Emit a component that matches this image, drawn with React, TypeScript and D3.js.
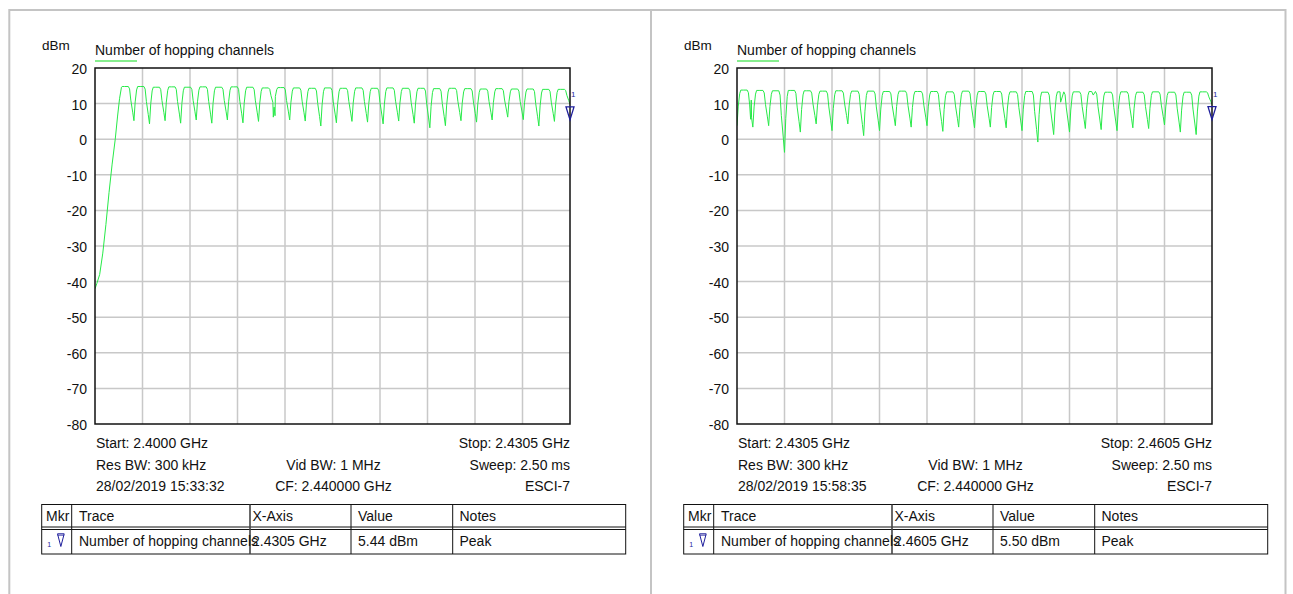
import React from 'react';
import * as d3 from 'd3';

// sweep spans in MHz
const leftSpan = [2400.0, 2430.5];
const rightSpan = [2430.5, 2460.5];

// hopping channel centres (MHz)
const leftChannels = [2402, 2403, 2404, 2405, 2406, 2407, 2408, 2409, 2410, 2411, 2412, 2413, 2414, 2415, 2416,
  2417, 2418, 2419, 2420, 2421, 2422, 2423, 2424, 2425, 2426, 2427, 2428, 2429, 2430];
const rightChannels = [2431, 2432, 2433, 2434, 2435, 2436, 2437, 2438, 2439, 2440, 2441, 2442, 2443, 2444, 2445,
  2446, 2447, 2448, 2449, 2450, 2451, 2452, 2453, 2454, 2455, 2456, 2457, 2458, 2459, 2460];

// lobe tops (dBm) per channel
const leftPeaks = [14.8, 14.8, 14.6, 14.7, 14.6, 14.7, 14.6, 14.7, 14.6, 14.4, 14.5, 14.4, 14.3, 14.4, 14.3,
  14.4, 14.3, 14.4, 14.3, 14.3, 14.2, 14.3, 14.2, 14.1, 14.2, 14.1, 14.1, 14.0, 14.0];
const rightPeaks = [13.8, 13.7, 13.6, 13.7, 13.6, 13.5, 13.6, 13.5, 13.5, 13.4, 13.5, 13.4, 13.4, 13.3, 13.5,
  13.4, 13.4, 13.3, 13.4, 13.2, 13.3, 13.3, 13.4, 13.2, 13.3, 13.2, 13.3, 13.2, 13.2, 13.3];

// minima between neighbouring channels (dBm)
const leftDips = [5.2, 4.3, 5.2, 4.5, 5.4, 4.5, 5.4, 4.6, 5.0, 9.0, 5.4, 5.1, 3.7,
  4.6, 5.0, 4.8, 4.3, 5.1, 4.5, 3.2, 3.8, 5.2, 4.8, 5.4, 6.2, 5.5, 3.7, 5.0];
const rightDips = [3.4, 3.8, -3.7, 2.0, 4.3, 2.4, 4.3, 1.0, 2.4, 3.8, 3.4, 3.8, 2.2, 3.4,
  3.2, 3.4, 3.2, 2.4, -0.8, 1.3, 2.0, 3.0, 2.7, 2.4, 3.2, 3.0, 4.0, 2.0, 1.3];

// start of the left sweep, before the first channel
const leftRamp: [number, number][] = [[2400.0, -42], [2400.12, -40.5], [2400.3, -38], [2400.5, -32], [2400.7, -24],
  [2400.9, -15], [2401.1, -7], [2401.3, 0], [2401.45, 6.5], [2401.58, 11.5], [2401.7, 14.6]];
const leftNotches: [number, number][] = [[2411.45, 6.2], [2411.56, 6.6]];
const rightNotches: [number, number][] = [[2431.36, 5.6], [2431.4, 11.0], [2450.94, 10.4], [2453.0, 12.4]];

const yTicks = [20, 10, 0, -10, -20, -30, -40, -50, -60, -70, -80];
const tableHeaders = ['Mkr', 'Trace', 'X-Axis', 'Value', 'Notes'];

const PLOT = { left: 95, top: 68, width: 475, height: 356 };
const GREEN = '#27ea48';
const BLUE = '#1e1e9c';
const FONT = '"Liberation Sans", Arial, sans-serif';

// shape of one lobe: offset from centre (MHz), which dip it leans on, fraction dip->peak
const LOBE: [number, string, number][] = [
  [-0.5, 'l', 0], [-0.42, 'l', 0.55], [-0.33, 'l', 0.9], [-0.26, 'l', 1], [-0.1, 'l', 1],
  [0.14, 'r', 1], [0.22, 'r', 0.93], [0.3, 'r', 0.6], [0.42, 'r', 0.25], [0.5, 'r', 0],
];

function buildTrace(p: any): [number, number][] {
  const pts: [number, number][] = [...p.lead];
  const leadEnd = pts.length ? pts[pts.length - 1][0] : -Infinity;
  p.channels.forEach((c: number, i: number) => {
    const lo = i === 0 ? p.startLevel : p.dips[i - 1];
    const hi = i === p.channels.length - 1 ? p.endLevel : p.dips[i];
    LOBE.forEach(([off, side, t]) => {
      if (i > 0 && off === -0.5) return;
      const f = c + off;
      if (f <= leadEnd) return;
      const base = side === 'l' ? lo : hi;
      pts.push([f, base + t * (p.peaks[i] - base)]);
    });
  });
  return [...pts, ...p.notches].sort((a, b) => a[0] - b[0]);
}

function Panel(props: any) {
  const { dx, span, info, marker } = props;
  const x = d3.scaleLinear().domain(span).range([PLOT.left, PLOT.left + PLOT.width]);
  const y = d3.scaleLinear().domain([-80, 20]).range([PLOT.top + PLOT.height, PLOT.top]);
  const trace = buildTrace(props);
  const line = d3.line<[number, number]>().x(d => x(d[0])).y(d => y(d[1]));
  const xGrid = d3.range(1, 10).map(i => span[0] + (i * (span[1] - span[0])) / 10);
  const clipId = 'clip' + dx;

  const mx = x(marker.freq);
  const my = y(marker.value);

  const tl = 41.7, tr = 625.7, tt = 504.5, tb = 554;
  const seps = [71.7, 250, 351, 452.7];
  const headX = [46, 79, 252.5, 358, 459.5];
  const rowY = 545.5;

  return (
    <g transform={`translate(${dx},0)`} fontFamily={FONT} fill="#111">
      <text x={42} y={50} fontSize={13.5}>dBm</text>
      <text x={PLOT.left} y={54.5} fontSize={14}>Number of hopping channels</text>
      <line x1={PLOT.left} x2={137} y1={61} y2={61} stroke="#86ee8e" strokeWidth={2} />

      {yTicks.map(v => (
        <g key={v}>
          {v > -80 && v < 20 && (
            <line x1={PLOT.left} x2={PLOT.left + PLOT.width} y1={y(v)} y2={y(v)} stroke="#c8c8c8" strokeWidth={1.5} />
          )}
          <text x={87} y={y(v) + 6} fontSize={14} textAnchor="end">{v}</text>
        </g>
      ))}
      {xGrid.map((f, i) => (
        <line key={i} x1={x(f)} x2={x(f)} y1={PLOT.top} y2={PLOT.top + PLOT.height} stroke="#c8c8c8" strokeWidth={1.5} />
      ))}

      <clipPath id={clipId}>
        <rect x={PLOT.left} y={PLOT.top} width={PLOT.width} height={PLOT.height} />
      </clipPath>
      <path d={line(trace) || ''} fill="none" stroke={GREEN} strokeWidth={1} clipPath={`url(#${clipId})`} />
      <rect x={PLOT.left} y={PLOT.top} width={PLOT.width} height={PLOT.height} fill="none" stroke="#111" strokeWidth={1.5} />

      <path d={`M${mx - 4},${my - 13}L${mx + 4},${my - 13}L${mx},${my}Z`} fill="none" stroke={BLUE} strokeWidth={1.3} />
      <text x={mx + 1} y={my - 23} fontSize={8} fill={BLUE}>1</text>

      <text x={PLOT.left + 1} y={447.5} fontSize={14}>{info.start}</text>
      <text x={PLOT.left + 1} y={469.5} fontSize={14}>{info.rbw}</text>
      <text x={PLOT.left + 1} y={490.5} fontSize={14}>{info.date}</text>
      <text x={PLOT.left + PLOT.width / 2 + 1} y={469.5} fontSize={14} textAnchor="middle">{info.vbw}</text>
      <text x={PLOT.left + PLOT.width / 2 + 1} y={490.5} fontSize={14} textAnchor="middle">{info.cf}</text>
      <text x={PLOT.left + PLOT.width} y={447.5} fontSize={14} textAnchor="end">{info.stop}</text>
      <text x={PLOT.left + PLOT.width} y={469.5} fontSize={14} textAnchor="end">{info.sweep}</text>
      <text x={PLOT.left + PLOT.width} y={490.5} fontSize={14} textAnchor="end">{info.device}</text>

      <rect x={tl} y={tt} width={tr - tl} height={tb - tt} fill="none" stroke="#111" strokeWidth={1} />
      <line x1={tl} x2={tr} y1={527} y2={527} stroke="#111" strokeWidth={1} />
      <line x1={tl} x2={tr} y1={529.5} y2={529.5} stroke="#111" strokeWidth={1} />
      {seps.map((s, i) => (
        <line key={i} x1={s} x2={s} y1={tt} y2={tb} stroke={i === 1 ? '#444' : '#111'} strokeWidth={i === 1 ? 1.6 : 1} />
      ))}
      {tableHeaders.map((h, i) => (
        <text key={h} x={headX[i]} y={521} fontSize={14}>{h}</text>
      ))}
      <text x={47.3} y={546.5} fontSize={7} fill={BLUE}>1</text>
      <path d="M57.5,533.8L64.2,533.8L60.85,546.5Z" fill="none" stroke={BLUE} strokeWidth={1} />
      <line x1={57.5} x2={64.2} y1={535.2} y2={535.2} stroke={BLUE} strokeWidth={0.8} />
      <text x={headX[1]} y={rowY} fontSize={14}>Number of hopping channels</text>
      <text x={headX[2] - 0.5} y={rowY} fontSize={14}>{marker.xText}</text>
      <text x={headX[3]} y={rowY} fontSize={14}>{marker.valueText}</text>
      <text x={headX[4]} y={rowY} fontSize={14}>Peak</text>
    </g>
  );
}

export default function App() {
  return (
    <div style={{ position: 'absolute', left: 0, top: 0 }}>
      <svg width={1293} height={594} style={{ display: 'block', background: '#fff' }}>
        <line x1={9} x2={1286} y1={10} y2={10} stroke="#c4c4c4" strokeWidth={2} />
        <line x1={9.3} x2={9.3} y1={9} y2={594} stroke="#c4c4c4" strokeWidth={2} />
        <line x1={651} x2={651} y1={9} y2={594} stroke="#c4c4c4" strokeWidth={2} />
        <line x1={1285.5} x2={1285.5} y1={9} y2={594} stroke="#c4c4c4" strokeWidth={2} />
        <Panel
          dx={0}
          span={leftSpan}
          channels={leftChannels}
          peaks={leftPeaks}
          dips={leftDips}
          lead={leftRamp}
          startLevel={-42}
          endLevel={9.8}
          notches={leftNotches}
          info={{
            start: 'Start: 2.4000 GHz', stop: 'Stop: 2.4305 GHz', rbw: 'Res BW: 300 kHz', vbw: 'Vid BW: 1 MHz',
            sweep: 'Sweep: 2.50 ms', date: '28/02/2019 15:33:32', cf: 'CF: 2.440000 GHz', device: 'ESCI-7',
          }}
          marker={{ freq: 2430.5, value: 5.44, xText: '2.4305 GHz', valueText: '5.44 dBm' }}
        />
        <Panel
          dx={642}
          span={rightSpan}
          channels={rightChannels}
          peaks={rightPeaks}
          dips={rightDips}
          lead={[]}
          startLevel={3.8}
          endLevel={9.8}
          notches={rightNotches}
          info={{
            start: 'Start: 2.4305 GHz', stop: 'Stop: 2.4605 GHz', rbw: 'Res BW: 300 kHz', vbw: 'Vid BW: 1 MHz',
            sweep: 'Sweep: 2.50 ms', date: '28/02/2019 15:58:35', cf: 'CF: 2.440000 GHz', device: 'ESCI-7',
          }}
          marker={{ freq: 2460.5, value: 5.5, xText: '2.4605 GHz', valueText: '5.50 dBm' }}
        />
      </svg>
    </div>
  );
}
